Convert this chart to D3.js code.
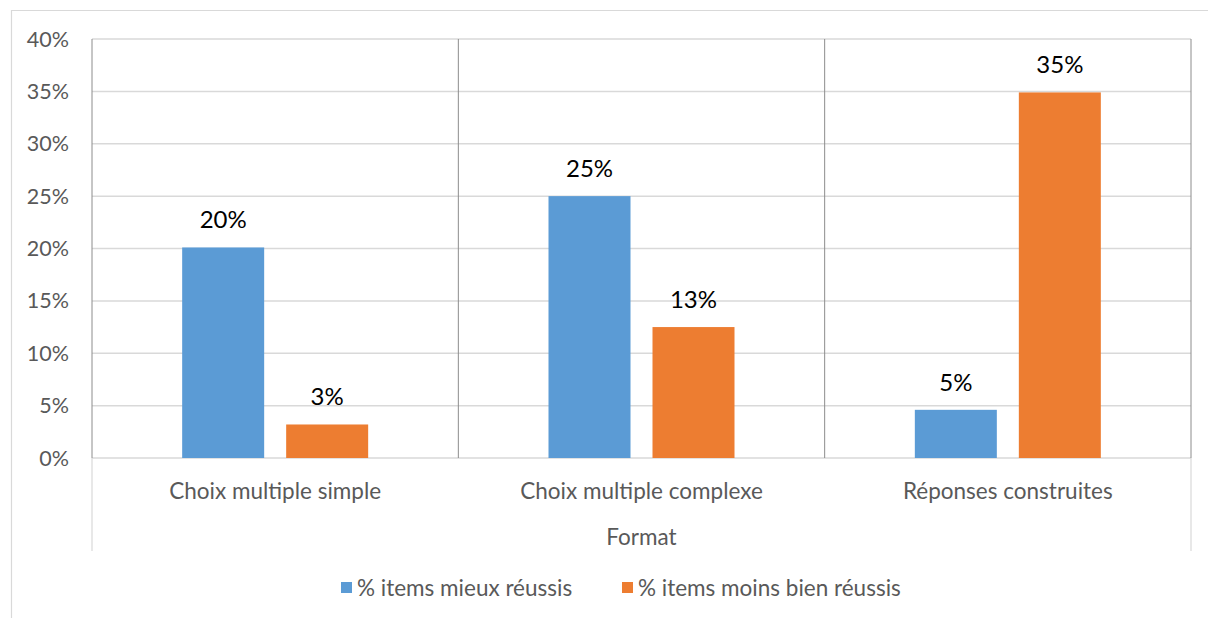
<!DOCTYPE html>
<html>
<head>
<meta charset="utf-8">
<script src="https://cdn.jsdelivr.net/npm/d3@7"></script>
<style>
  html, body { margin: 0; padding: 0; background: #fff; }
  svg { display: block; font-family: Lato, "Open Sans", sans-serif; }
</style>
</head>
<body>
<svg id="chart" width="1208" height="618"></svg>
<script>
// Share of items by question format
const categories = ["Choix multiple simple", "Choix multiple complexe", "Réponses construites"];
const seriesNames = ["% items mieux réussis", "% items moins bien réussis"];
const mieuxReussis = [0.201, 0.25, 0.046];
const moinsBienReussis = [0.032, 0.125, 0.349];
const yTicks = [0, 0.05, 0.10, 0.15, 0.20, 0.25, 0.30, 0.35, 0.40];
const axisTitle = "Format";
const colors = ["#5B9BD5", "#ED7D31"];

const svg = d3.select("#chart");
const plot = { left: 92, right: 1191, top: 39, bottom: 458 };
const catBottom = 551;
const labelSize = 22.5;

// outer frame
svg.append("path")
  .attr("d", `M11.5,618 V10.5 H1208`)
  .attr("fill", "none").attr("stroke", "#d9d9d9").attr("stroke-width", 1.2);

const x0 = d3.scaleBand().domain(categories).range([plot.left, plot.right]).padding(0);
const y = d3.scaleLinear().domain([0, 0.40]).range([plot.bottom, plot.top]);
const fmt = d3.format(".0%");

// horizontal gridlines
svg.append("g").selectAll("line").data(yTicks).join("line")
  .attr("x1", plot.left).attr("x2", plot.right)
  .attr("y1", d => y(d)).attr("y2", d => y(d))
  .attr("stroke", "#d9d9d9").attr("stroke-width", 1.5);

// y tick labels
svg.append("g").selectAll("text").data(yTicks).join("text")
  .attr("x", 69).attr("y", d => y(d)).attr("dy", "0.35em")
  .attr("text-anchor", "end").attr("fill", "#595959")
  .attr("font-size", 21.5)
  .text(d => fmt(d));

// category dividers inside the plot
const dividers = categories.map(c => x0(c)).concat([plot.right]);
svg.append("g").selectAll("line").data(dividers).join("line")
  .attr("x1", d => d).attr("x2", d => d)
  .attr("y1", plot.top).attr("y2", plot.bottom)
  .attr("stroke", "#8c8c8c").attr("stroke-width", 1);
// outer edges of the category axis below the baseline
svg.append("g").selectAll("line").data([plot.left, plot.right]).join("line")
  .attr("x1", d => d).attr("x2", d => d)
  .attr("y1", plot.bottom).attr("y2", catBottom)
  .attr("stroke", "#d9d9d9").attr("stroke-width", 1.2);

// bars
const barW = 82, gap = 22;
const data = categories.map((c, i) => ({ cat: c, values: [mieuxReussis[i], moinsBienReussis[i]] }));
const groups = svg.append("g").selectAll("g").data(data).join("g")
  .attr("transform", d => `translate(${x0(d.cat) + x0.bandwidth() / 2},0)`);

groups.selectAll("rect").data(d => d.values).join("rect")
  .attr("x", (d, j) => j === 0 ? -gap / 2 - barW : gap / 2)
  .attr("width", barW)
  .attr("y", d => y(d))
  .attr("height", d => y(0) - y(d))
  .attr("fill", (d, j) => colors[j]);

groups.selectAll("text.lbl").data(d => d.values).join("text")
  .attr("class", "lbl")
  .attr("x", (d, j) => j === 0 ? -gap / 2 - barW / 2 : gap / 2 + barW / 2)
  .attr("y", d => y(d) - 19)
  .attr("text-anchor", "middle").attr("fill", "#000")
  .attr("font-size", 24)
  .text(d => fmt(d));

// category labels
svg.append("g").selectAll("text").data(categories).join("text")
  .attr("x", d => x0(d) + x0.bandwidth() / 2).attr("y", 491).attr("dy", "0.35em")
  .attr("text-anchor", "middle").attr("fill", "#595959")
  .attr("font-size", labelSize)
  .text(d => d);

svg.append("text")
  .attr("x", (plot.left + plot.right) / 2).attr("y", 537).attr("dy", "0.35em")
  .attr("text-anchor", "middle").attr("fill", "#595959")
  .attr("font-size", labelSize)
  .text(axisTitle);

// legend
const legend = svg.append("g");
const legendItems = [{ x: 341, name: seriesNames[0], color: colors[0] },
                     { x: 622, name: seriesNames[1], color: colors[1] }];
legendItems.forEach(it => {
  legend.append("rect").attr("x", it.x).attr("y", 582).attr("width", 11).attr("height", 11).attr("fill", it.color);
  legend.append("text").attr("x", it.x + 16).attr("y", 588).attr("dy", "0.35em")
    .attr("fill", "#595959").attr("font-size", labelSize).text(it.name);
});
</script>
</body>
</html>
